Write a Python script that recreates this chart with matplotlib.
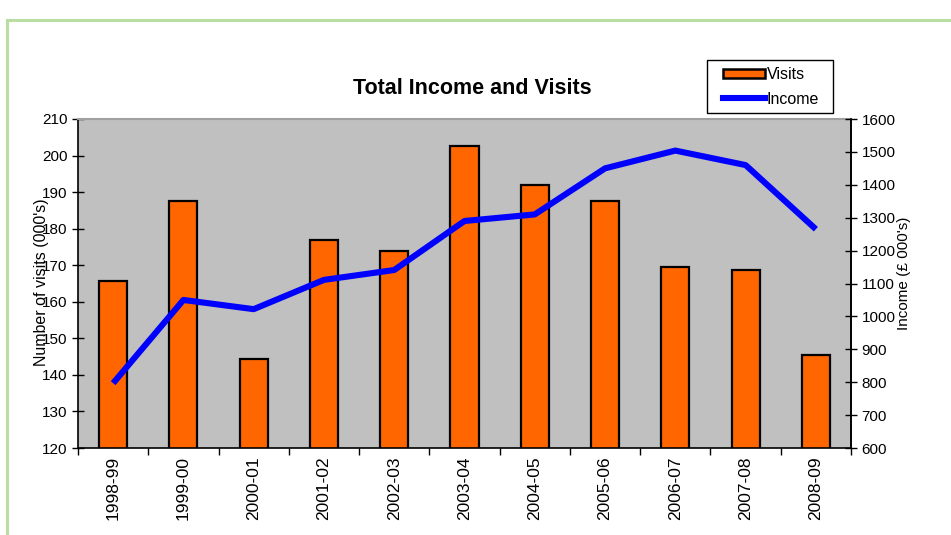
import matplotlib
matplotlib.use("Agg")
import matplotlib.pyplot as plt
from matplotlib.patches import Patch, Rectangle
from matplotlib.lines import Line2D
import numpy as np

plt.rcParams['font.family'] = ['Liberation Sans', 'DejaVu Sans']

years = ["1998-99", "1999-00", "2000-01", "2001-02", "2002-03", "2003-04",
         "2004-05", "2005-06", "2006-07", "2007-08", "2008-09"]
visits = [165.7, 187.6, 144.3, 177.0, 173.9, 202.7, 191.9, 187.6, 169.6, 168.7, 145.4]
income = [797, 1050, 1022, 1111, 1141, 1290, 1310, 1450, 1504, 1460, 1265]

W, H = 951, 535
fig = plt.figure(figsize=(W / 100, H / 100), dpi=100)
fig.patch.set_facecolor("white")

# green frame (top and left)
fig.add_artist(Line2D([7 / W, 1.0], [1 - 20 / H, 1 - 20 / H], transform=fig.transFigure,
                      color="#b9dda3", lw=2.2))
fig.add_artist(Line2D([7 / W, 7 / W], [0.0, 1 - 20 / H], transform=fig.transFigure,
                      color="#b9dda3", lw=2.2))

L, R, T, B = 78, 851, 119, 448
ax = fig.add_axes([L / W, 1 - B / H, (R - L) / W, (B - T) / H])
ax.set_facecolor("#c0c0c0")

x = np.arange(len(years))
ax.bar(x, visits, width=0.4, color="#ff6600", edgecolor="black", linewidth=1.6, zorder=2)
ax.set_xlim(-0.5, len(years) - 0.5)
ax.set_ylim(120, 210)
ax.set_yticks(np.arange(120, 211, 10))
ax.set_xticks(x)
ax.set_xticklabels(years, rotation=90, fontsize=12.5)
ax.set_xticks(np.arange(-0.5, len(years), 1), minor=True)
ax.tick_params(axis="x", which="major", length=0, pad=6)
ax.tick_params(axis="x", which="minor", length=5, direction="out", width=1)
ax.tick_params(axis="y", length=9, direction="inout", width=1, labelsize=11, pad=3)

for s in ["left", "bottom", "right"]:
    ax.spines[s].set_color("black")
    ax.spines[s].set_linewidth(1.2)
ax.spines["top"].set_color("#a0a0a0")
ax.spines["top"].set_linewidth(1.5)

ax2 = ax.twinx()
ax2.plot(x, income, color="#0000ff", linewidth=4.4, solid_joinstyle="round",
         solid_capstyle="butt", zorder=3)
ax2.set_ylim(600, 1600)
ax2.set_yticks(np.arange(600, 1601, 100))
ax2.tick_params(axis="y", length=9, direction="inout", width=1, labelsize=11, pad=3)
ax2.spines["right"].set_color("black")
ax2.spines["right"].set_linewidth(1.2)
ax2.spines["top"].set_visible(False)
ax2.spines["left"].set_visible(False)
ax2.spines["bottom"].set_visible(False)

ax.set_ylabel("Number of visits (000's)", fontsize=11.5)
ax.yaxis.set_label_coords(-0.037, 0.505)
ax2.set_ylabel("Income (£ 000's)", fontsize=11)
ax2.yaxis.set_label_coords(1.060, 0.53)

fig.text(472 / W, 1 - 88 / H, "Total Income and Visits", ha="center", va="center",
         fontsize=15.5, fontweight="bold")

# legend frame
fig.add_artist(Rectangle((707 / W, 1 - 113 / H), (833 - 707) / W, (113 - 60) / H,
                         transform=fig.transFigure, facecolor="white",
                         edgecolor="black", linewidth=1.0))
handles = [Patch(facecolor="#ff6600", edgecolor="black", linewidth=1.8),
           Line2D([0], [0], color="#0000ff", lw=4.4)]
leg = fig.legend(handles, ["Visits", "Income"], loc="upper left",
                 bbox_to_anchor=(723 / W, 1 - 67 / H), fontsize=11.5,
                 frameon=False, borderpad=0,
                 handlelength=2.6, handleheight=0.5, handletextpad=0.12,
                 labelspacing=0.6, borderaxespad=0)

fig.savefig("out.png", dpi=100, facecolor="white")
